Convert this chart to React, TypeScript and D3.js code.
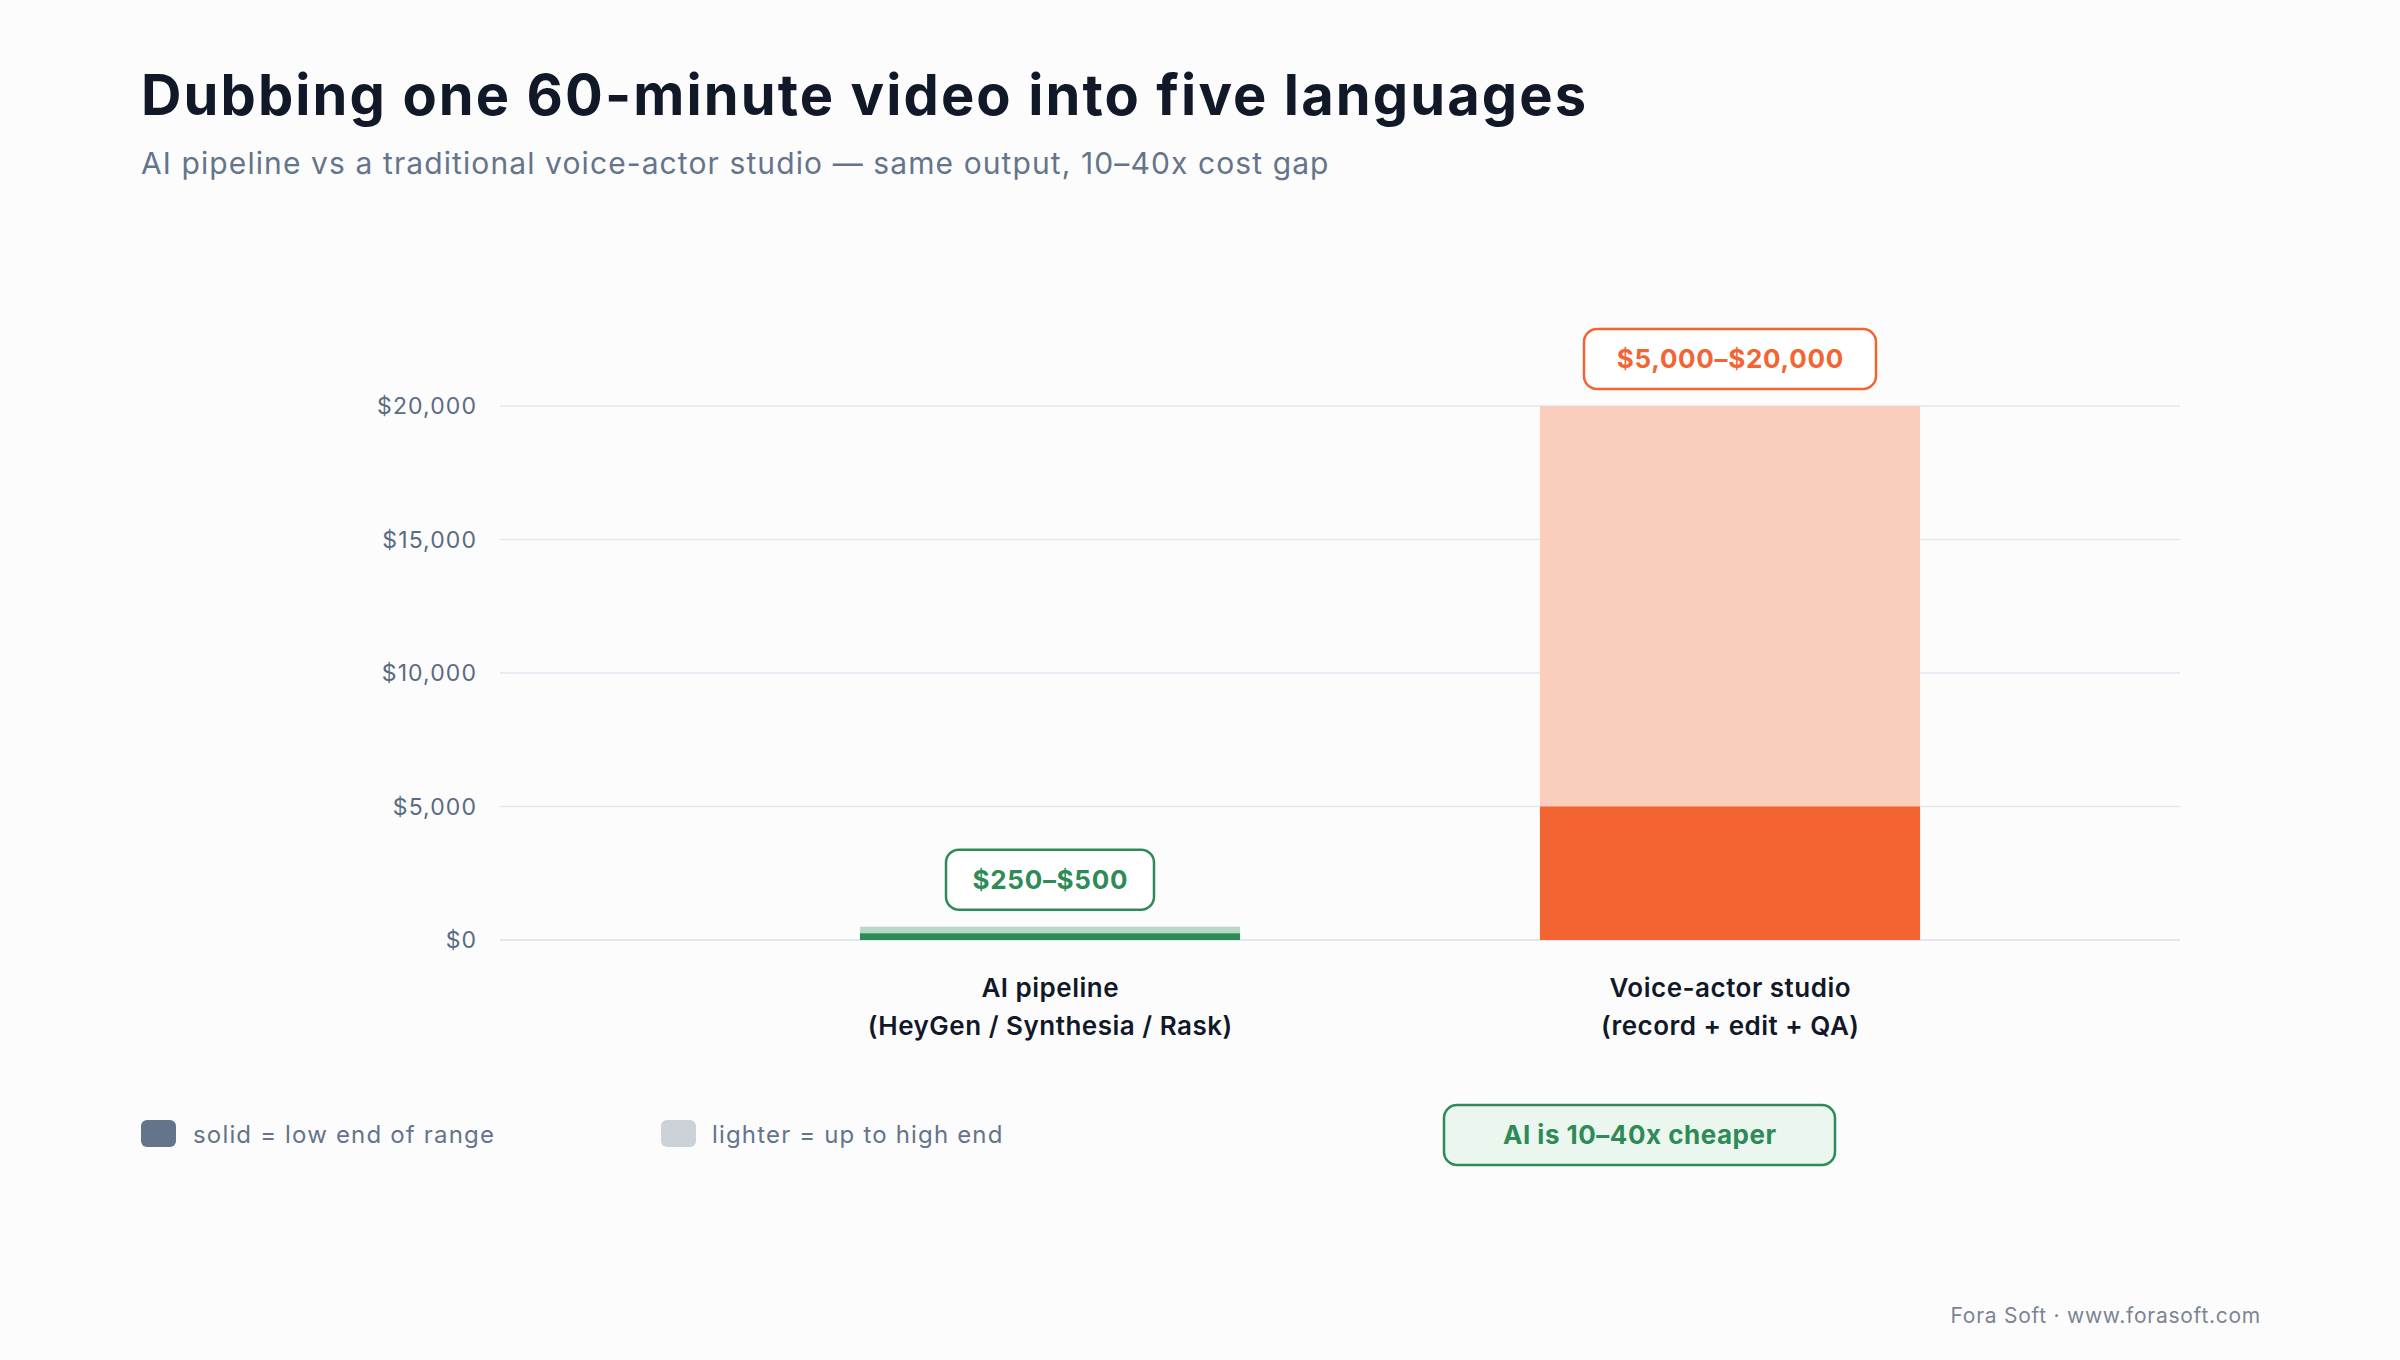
import React from "react";
import * as d3 from "d3";

const categories = ["AI pipeline", "Voice-actor studio"];
const categorySubs = ["(HeyGen / Synthesia / Rask)", "(record + edit + QA)"];
const lowValues = [250, 5000];
const highValues = [500, 20000];
const rangeLabels = ["$250–$500", "$5,000–$20,000"];
const yTicks = [0, 5000, 10000, 15000, 20000];

const solidColors = ["#2E8B57", "#F26532"];
const lightColors = ["#B9D9C7", "#FACDBD"];

const FONT = "Inter, 'Noto Sans', sans-serif";

export default function App() {
  const W = 2400;
  const H = 1360;
  const gridX0 = 500;
  const gridX1 = 2180;

  const y = d3.scaleLinear().domain([0, 20000]).range([940, 406]);
  const x = d3
    .scaleBand<string>()
    .domain(categories)
    .range([710, 2070])
    .paddingInner(0.441)
    .paddingOuter(0.2205);
  const bw = x.bandwidth();
  const fmt = (v: number) => "$" + d3.format(",")(v);
  const boxWidths = [208, 292];

  return (
    <svg
      width={W}
      height={H}
      viewBox={`0 0 ${W} ${H}`}
      style={{ position: "absolute", left: 0, top: 0, background: "#FCFCFC" }}
      fontFamily={FONT}
    >
      <rect x={0} y={0} width={W} height={H} fill="#FCFCFC" />
      <text x={141} y={115} fontSize={56} fontWeight={700} fill="#111827" letterSpacing={2.1}>
        Dubbing one 60-minute video into five languages
      </text>
      <text x={141} y={174} fontSize={30} fill="#64748B" letterSpacing={1.1}>
        AI pipeline vs a traditional voice-actor studio — same output, 10–40x cost gap
      </text>

      {yTicks.map((t) => (
        <g key={t}>
          <line
            x1={gridX0}
            x2={gridX1}
            y1={y(t)}
            y2={y(t)}
            stroke="#E2E8F0"
            strokeWidth={t === 0 ? 2 : 1.5}
          />
          <text
            x={477.1}
            y={y(t)}
            dy="0.35em"
            textAnchor="end"
            fontSize={23}
            letterSpacing={1.1}
            fill="#5B6B82"
          >
            {fmt(t)}
          </text>
        </g>
      ))}

      {categories.map((c, i) => {
        const bx = x(c) as number;
        const cx = bx + bw / 2;
        const boxW = boxWidths[i];
        const boxH = 60;
        const boxBottom = y(highValues[i]) - 17;
        return (
          <g key={c}>
            <rect
              x={bx}
              y={y(highValues[i])}
              width={bw}
              height={y(0) - y(highValues[i])}
              fill={lightColors[i]}
            />
            <rect
              x={bx}
              y={y(lowValues[i])}
              width={bw}
              height={y(0) - y(lowValues[i])}
              fill={solidColors[i]}
            />
            <rect
              x={cx - boxW / 2}
              y={boxBottom - boxH}
              width={boxW}
              height={boxH}
              rx={13}
              fill="#FFFFFF"
              stroke={solidColors[i]}
              strokeWidth={2.5}
            />
            <text
              x={cx + 0.35}
              y={boxBottom - boxH / 2}
              dy="0.36em"
              textAnchor="middle"
              fontSize={26}
              fontWeight={700}
              letterSpacing={0.7}
              fill={solidColors[i]}
            >
              {rangeLabels[i]}
            </text>
            <text
              x={cx + 0.25}
              y={997}
              textAnchor="middle"
              fontSize={26}
              fontWeight={600}
              letterSpacing={0.5}
              fill="#111827"
            >
              {c}
            </text>
            <text
              x={cx + 0.25}
              y={1035}
              textAnchor="middle"
              fontSize={26}
              fontWeight={600}
              letterSpacing={0.5}
              fill="#111827"
            >
              {categorySubs[i]}
            </text>
          </g>
        );
      })}

      <rect x={141} y={1120} width={35} height={27} rx={6} fill="#64748B" />
      <text x={193} y={1143} fontSize={24} letterSpacing={1.17} fill="#64748B">
        solid = low end of range
      </text>
      <rect x={661} y={1120} width={35} height={27} rx={6} fill="#CDD2D9" />
      <text x={712} y={1143} fontSize={24} letterSpacing={1.17} fill="#64748B">
        lighter = up to high end
      </text>

      <rect
        x={1444}
        y={1105}
        width={391}
        height={60}
        rx={13}
        fill="#EAF6EE"
        stroke="#2E8B57"
        strokeWidth={2.5}
      />
      <text
        x={1639.75}
        y={1135}
        dy="0.36em"
        textAnchor="middle"
        fontSize={26}
        fontWeight={700}
        letterSpacing={0.5}
        fill="#2E8B57"
      >
        AI is 10–40x cheaper
      </text>

      <text x={2261} y={1323} textAnchor="end" fontSize={21} letterSpacing={0.74} fill="#7B8494">
        Fora Soft · www.forasoft.com
      </text>
    </svg>
  );
}
